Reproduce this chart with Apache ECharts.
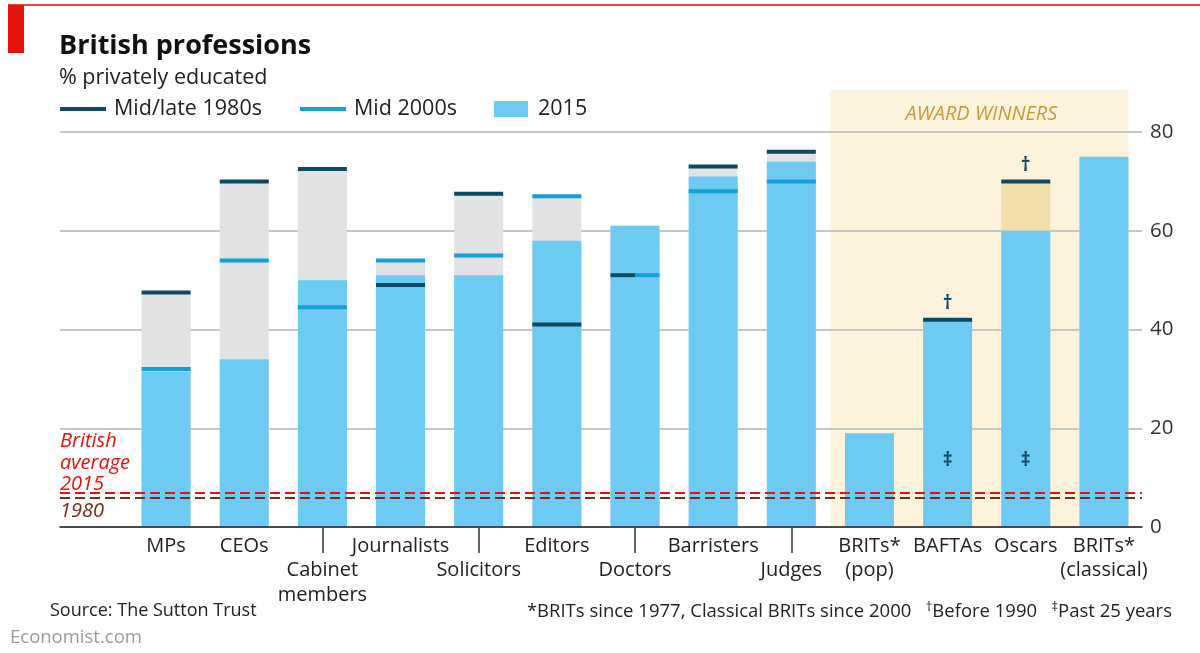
<!DOCTYPE html>
<html><head><meta charset="utf-8">
<script src="https://cdn.jsdelivr.net/npm/echarts@6/dist/echarts.min.js"></script>
<style>html,body{margin:0;padding:0;background:#fff}#c{width:1200px;height:653px}</style>
</head><body><div id="c"></div>
<script>
// ---- data ----
const categories = ['MPs','CEOs','Cabinet\nmembers','Journalists','Solicitors','Editors','Doctors','Barristers','Judges','BRITs*\n(pop)','BAFTAs','Oscars','BRITs*\n(classical)'];
const lowerRow = [2,4,6,8];           // labels placed on the second row
const awardStart = 9;                 // first award-winner category
const values2015  = [31.5, 34, 50, 51, 51, 58, 61, 71, 74, 19, 42, 60, 75];
const values1980s = [47.5, 70, 72.5, 49, 67.5, 41, 51, 73, 76, null, 42, 70, null];
const values2000s = [32, 54, 44.5, 54, 55, 67, 51, 68, 70, null, null, null, null];
const daggerAbove = [null,null,null,null,null,null,null,null,null,null,'†','†',null];
const daggerInside = [null,null,null,null,null,null,null,null,null,null,'‡','‡',null];
const daggerInsideValue = 13.5;
const avg2015 = 7, avg1980 = 6;
const yTicks = {min: 0, max: 80, interval: 20};
const awardTop = 88.5;

// ---- styles ----
const FONT = 'Open Sans';
const C_DARK = '#0d4964', C_MID = '#139fd8', C_2015 = '#6dcaf3', C_GREY = '#e1e2e4', C_BEIGE = '#f2dea9';
const BAR_W = 49;

const rangeVals = values2015.map((v,i)=>Math.max(v, values1980s[i] ?? -1, values2000s[i] ?? -1));

function markRender(own, other, color) {
  return function(params, api) {
    const v = api.value(1);
    if (v == null || isNaN(v)) return;
    const i = api.value(0);
    const p = api.coord([i, v]);
    let x0 = p[0] - BAR_W/2, w = BAR_W;
    const o = other[i];
    if (o != null && o === own[i]) {
      w = BAR_W/2;
      if (own === values2000s) x0 = p[0];
    }
    return {type:'rect', shape:{x:x0, y:p[1]-2, width:w, height:4}, style:{fill:color}};
  };
}

const chart = echarts.init(document.getElementById('c'));
chart.setOption({
  animation: false,
  textStyle: {fontFamily: FONT},
  title: [
    {text:'British professions', left:59, top:33, padding:0, textStyle:{fontFamily:FONT, fontSize:27, fontWeight:'bold', color:'#111'}},
    {text:'% privately educated', left:59, top:67, padding:0, textStyle:{fontFamily:FONT, fontSize:21.5, fontWeight:'normal', color:'#222'}},
    {text:'Source: The Sutton Trust', left:50, top:602, padding:0, textStyle:{fontFamily:FONT, fontSize:18, fontWeight:'normal', color:'#222'}},
    {text:'*BRITs since 1977, Classical BRITs since 2000   {s|†}Before 1990   {s|‡}Past 25 years', right:28, top:601, padding:0,
      textStyle:{fontFamily:FONT, fontSize:18.5, fontWeight:'normal', color:'#222', rich:{s:{fontFamily:FONT, fontSize:13, color:'#222', verticalAlign:'top', lineHeight:22}}}},
    {text:'Economist.com', left:10, top:628, padding:0, textStyle:{fontFamily:FONT, fontSize:18.5, fontWeight:'normal', color:'#9a9a9a'}}
  ],
  legend: [
    {left:60, top:98, padding:0, icon:'rect', itemWidth:46, itemHeight:4, itemGap:0, data:['Mid/late 1980s'], textStyle:{fontFamily:FONT, fontSize:21.5, color:'#222', padding:[0,0,0,3]}, selectedMode:false},
    {left:300, top:98, padding:0, icon:'rect', itemWidth:46, itemHeight:4, itemGap:0, data:['Mid 2000s'], textStyle:{fontFamily:FONT, fontSize:21.5, color:'#222', padding:[0,0,0,3]}, selectedMode:false},
    {left:494, top:98, padding:0, icon:'rect', itemWidth:34, itemHeight:16, itemGap:0, data:['2015'], textStyle:{fontFamily:FONT, fontSize:21.5, color:'#222', padding:[0,0,0,5]}, selectedMode:false}
  ],
  graphic: [
    {type:'rect', left:8, top:4, shape:{width:1192, height:2}, style:{fill:'#e8453c'}},
    {type:'rect', left:8, top:5, shape:{width:16, height:48}, style:{fill:'#e3120b'}}
  ],
  grid: [
    {left:60, right:58, top:132, bottom:126},
    {left:127, right:57, top:132, bottom:126}
  ],
  xAxis: [
    {gridIndex:0, type:'value', min:0, max:1, axisLabel:{show:false}, axisTick:{show:false}, splitLine:{show:false},
      axisLine:{show:true, lineStyle:{color:'#222', width:1.5}}, z:4},
    {gridIndex:1, type:'category', data:categories, axisLine:{show:false},
      axisTick:{show:true, alignWithLabel:true, length:26, interval:(i)=>lowerRow.includes(i), lineStyle:{color:'#333', width:1.5}},
      axisLabel:{interval:0, margin:7, fontFamily:FONT, fontSize:20, color:'#222', lineHeight:24.5,
        formatter:(v, i)=> lowerRow.includes(i) ? '\n' + v : v}}
  ],
  yAxis: [
    {gridIndex:0, type:'value', position:'right', min:yTicks.min, max:yTicks.max, interval:yTicks.interval, z:1,
      axisLine:{show:false}, axisTick:{show:false},
      axisLabel:{fontFamily:FONT, fontSize:20.5, color:'#333', margin:8},
      splitLine:{lineStyle:{color:'#c6c6c6', width:2}}},
    {gridIndex:1, type:'value', min:yTicks.min, max:yTicks.max, interval:yTicks.interval, show:false}
  ],
  series: [
    {type:'custom', name:'awardBg', xAxisIndex:1, yAxisIndex:1, z:0, silent:true,
      data:[[awardStart, categories.length-1, awardTop]], encode:{x:[0,1], y:2},
      renderItem:(params, api)=>{
        const band = api.size([1,0])[0];
        const a = api.coord([api.value(0), 0]);
        const b = api.coord([api.value(1), api.value(2)]);
        const x0 = a[0] - band/2, x1 = b[0] + BAR_W/2;
        return {type:'group', children:[
          {type:'rect', shape:{x:x0, y:b[1], width:x1-x0, height:a[1]-b[1]}, style:{fill:'#fdf3dd'}},
          {type:'text', x:(x0+x1)/2 + 2, y:b[1]+24, style:{text:'AWARD WINNERS', fill:'#c99a33', font:'italic 20px "'+FONT+'"', align:'center', verticalAlign:'middle'}}
        ]};
      }},
    {type:'bar', name:'range', xAxisIndex:1, yAxisIndex:1, barWidth:BAR_W, barGap:'-100%', z:2, silent:true,
      data:rangeVals.map((v,i)=>({value:v, itemStyle:{color: i>=awardStart ? C_BEIGE : C_GREY}}))},
    {type:'bar', name:'2015', xAxisIndex:1, yAxisIndex:1, barWidth:BAR_W, barGap:'-100%', z:2, itemStyle:{color:C_2015}, data:values2015},
    {type:'custom', name:'Mid/late 1980s', xAxisIndex:1, yAxisIndex:1, z:3, itemStyle:{color:C_DARK},
      data:values1980s.map((v,i)=>[i, v==null ? NaN : v]), encode:{x:0, y:1},
      renderItem:markRender(values1980s, values2000s, C_DARK)},
    {type:'custom', name:'Mid 2000s', xAxisIndex:1, yAxisIndex:1, z:3, itemStyle:{color:C_MID},
      data:values2000s.map((v,i)=>[i, v==null ? NaN : v]), encode:{x:0, y:1},
      renderItem:markRender(values2000s, values1980s, C_MID)},
    {type:'custom', name:'notes', xAxisIndex:1, yAxisIndex:1, z:4, silent:true,
      data:categories.map((c,i)=>[i]), encode:{x:0},
      renderItem:(params, api)=>{
        const i = params.dataIndex;
        const kids = [];
        if (daggerAbove[i]) {
          const p = api.coord([i, values1980s[i]]);
          kids.push({type:'text', x:p[0], y:p[1]-16, style:{text:daggerAbove[i], fill:C_DARK, font:'bold 19px "'+FONT+'"', align:'center', verticalAlign:'middle'}});
        }
        if (daggerInside[i]) {
          const p = api.coord([i, daggerInsideValue]);
          kids.push({type:'text', x:p[0], y:p[1], style:{text:daggerInside[i], fill:C_DARK, font:'bold 19px "'+FONT+'"', align:'center', verticalAlign:'middle'}});
        }
        return {type:'group', children:kids};
      }},
    {type:'line', name:'avg', xAxisIndex:0, yAxisIndex:0, data:[], silent:true, z:5,
      markLine:{silent:true, symbol:'none', z:5, animation:false,
        data:[
          {yAxis:avg2015, lineStyle:{color:'#e3120b', type:[10,5], width:2},
            label:{position:'insideStartTop', distance:[0,-3], formatter:'British\naverage\n2015', color:'#e3120b', fontStyle:'italic', fontFamily:FONT, fontSize:20, lineHeight:21.5, align:'left'}},
          {yAxis:avg1980, lineStyle:{color:'#7b2a1e', type:[10,5], width:2},
            label:{position:'insideStartBottom', distance:[0,4], formatter:'1980', color:'#7b2a1e', fontStyle:'italic', fontFamily:FONT, fontSize:20, align:'left'}}
        ]}}
  ]
});
</script></body></html>
